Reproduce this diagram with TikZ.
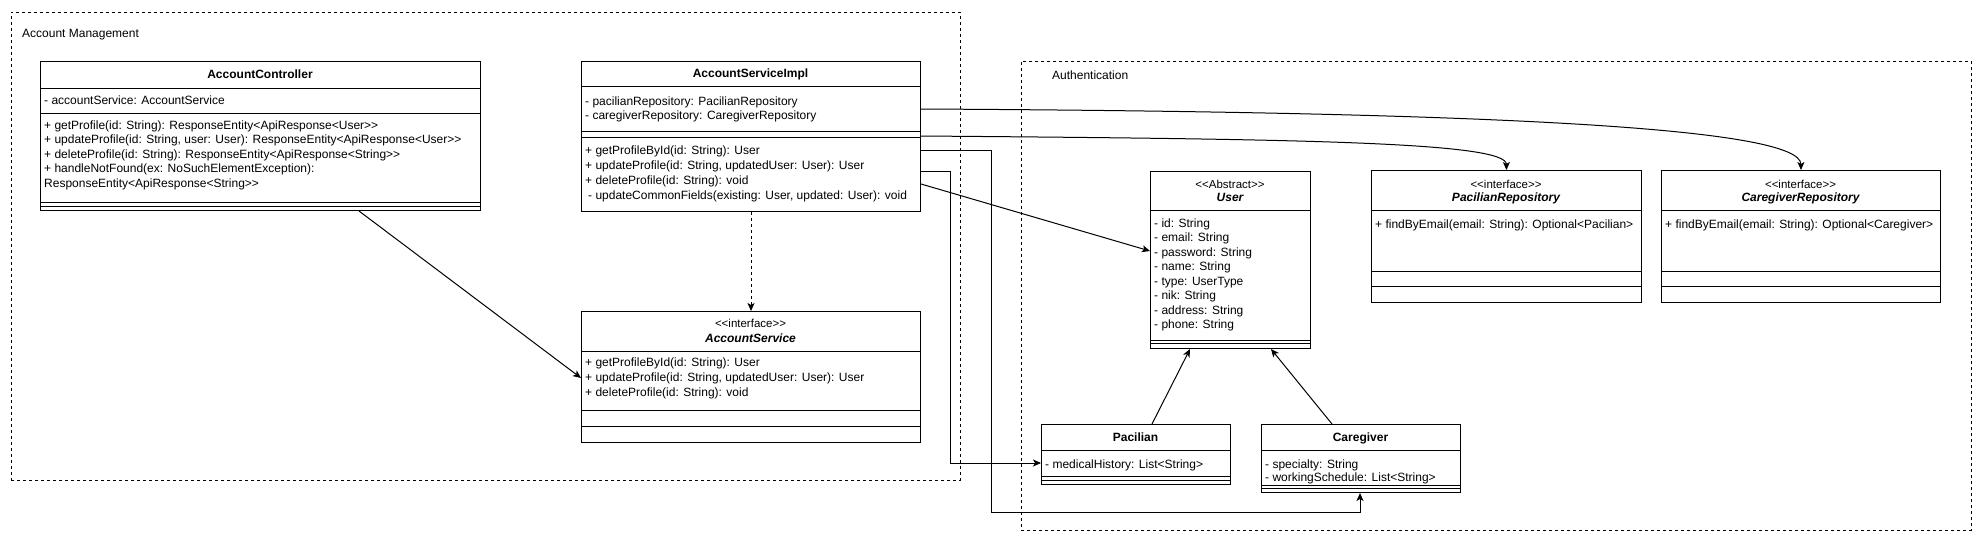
\documentclass[tikz,border=0pt]{standalone}
\usepackage{fontspec}
\setmainfont{Liberation Sans}
\usetikzlibrary{arrows.meta,calc}
\newcommand\dlt{<\kern0pt<}
\newcommand\dgt{>\kern0pt>}
\begin{document}
\begin{tikzpicture}[x=1pt,y=-1pt,
  frame/.style={draw, line width=0.9pt, dash pattern=on 3pt off 3pt, anchor=north west, inner sep=0pt},
  cls/.style={draw, line width=1pt, fill=white, anchor=north west, inner sep=0pt},
  sep/.style={line width=1pt},
  txt/.style={anchor=base west, inner sep=0pt, font=\fontsize{12}{14.4}\selectfont},
  hd/.style={anchor=base, inner sep=0pt, font=\fontsize{12}{14.4}\selectfont\bfseries},
  hdi/.style={anchor=base, inner sep=0pt, font=\fontsize{12}{14.4}\selectfont\bfseries\itshape},
  st/.style={anchor=base, inner sep=0pt, font=\fontsize{11.5}{13}\selectfont},
  conn/.style={line width=1pt, -{Stealth[length=8pt,width=7pt,inset=2pt]}},
]
\useasboundingbox (0,0) rectangle (1981,541);
\fill[white] (0,0) rectangle (1981,541);

% frames
\node[frame, minimum width=949pt, minimum height=468pt] (am) at (11,12) {};
\node[frame, minimum width=950pt, minimum height=469pt] (au) at (1021,61) {};
\node[txt] (amlbl) at (22,37) {Account Management};
\node[txt] (aulbl) at (1052,79) {Authentication};

% AccountController
\node[cls, minimum width=440pt, minimum height=149pt] (ac) at (40,61) {};
\foreach \yy in {88,113,202,206.5} \draw[sep] (ac.west |- 0,\yy) -- (ac.east |- 0,\yy);
\node[hd] (ach) at (260,78.5) {AccountController};
\node[txt] (aca1) at (44,104) {- accountService: AccountService};
\node[txt] (acm1) at (44,129) {+ getProfile(id: String): ResponseEntity<ApiResponse<User\dgt};
\node[txt] (acm2) at (44,143.5) {+ updateProfile(id: String, user: User): ResponseEntity<ApiResponse<User\dgt};
\node[txt] (acm3) at (44,158) {+ deleteProfile(id: String): ResponseEntity<ApiResponse<String\dgt};
\node[txt] (acm4) at (44,172.5) {+ handleNotFound(ex: NoSuchElementException):};
\node[txt] (acm5) at (44,187) {ResponseEntity<ApiResponse<String\dgt};

% AccountServiceImpl
\node[cls, minimum width=339pt, minimum height=150pt] (asi) at (581,61) {};
\foreach \yy in {86,131,137} \draw[sep] (asi.west |- 0,\yy) -- (asi.east |- 0,\yy);
\node[hd] (asih) at (750.5,77.5) {AccountServiceImpl};
\node[txt] (asia1) at (585,105) {- pacilianRepository: PacilianRepository};
\node[txt] (asia2) at (585,119) {- caregiverRepository: CaregiverRepository};
\node[txt] (asim1) at (585,154) {+ getProfileById(id: String): User};
\node[txt] (asim2) at (585,169.5) {+ updateProfile(id: String, updatedUser: User): User};
\node[txt] (asim3) at (585,184.5) {+ deleteProfile(id: String): void};
\node[txt] (asim4) at (588,199) {- updateCommonFields(existing: User, updated: User): void};

% AccountService
\node[cls, minimum width=339pt, minimum height=131pt] (as) at (581,311) {};
\foreach \yy in {351,410,426} \draw[sep] (as.west |- 0,\yy) -- (as.east |- 0,\yy);
\node[st] (ass) at (750.5,327) {\dlt interface\dgt};
\node[hdi] (ash) at (750.5,342) {AccountService};
\node[txt] (asm1) at (585,366.7) {+ getProfileById(id: String): User};
\node[txt] (asm2) at (585,381.7) {+ updateProfile(id: String, updatedUser: User): User};
\node[txt] (asm3) at (585,396.3) {+ deleteProfile(id: String): void};

% User
\node[cls, minimum width=160pt, minimum height=177.5pt] (user) at (1150,170.5) {};
\foreach \yy in {210,340,343.5} \draw[sep] (user.west |- 0,\yy) -- (user.east |- 0,\yy);
\node[st] (users) at (1230,188.3) {\dlt Abstract\dgt};
\node[hdi] (userh) at (1230,201.7) {User};
\node[txt] (ua1) at (1154,227.3) {- id: String};
\node[txt] (ua2) at (1154,241.8) {- email: String};
\node[txt] (ua3) at (1154,256.3) {- password: String};
\node[txt] (ua4) at (1154,270.8) {- name: String};
\node[txt] (ua5) at (1154,285.3) {- type: UserType};
\node[txt] (ua6) at (1154,299.8) {- nik: String};
\node[txt] (ua7) at (1154,314.3) {- address: String};
\node[txt] (ua8) at (1154,328.8) {- phone: String};

% PacilianRepository
\node[cls, minimum width=270pt, minimum height=132pt] (pr) at (1371,170) {};
\foreach \yy in {210,271,286.5} \draw[sep] (pr.west |- 0,\yy) -- (pr.east |- 0,\yy);
\node[st] (prs) at (1506,188) {\dlt interface\dgt};
\node[hdi] (prh) at (1506,201.7) {PacilianRepository};
\node[txt] (prm1) at (1375,228) {+ findByEmail(email: String): Optional<Pacilian>};

% CaregiverRepository
\node[cls, minimum width=279pt, minimum height=132pt] (cr) at (1661,170) {};
\foreach \yy in {210,271,286.5} \draw[sep] (cr.west |- 0,\yy) -- (cr.east |- 0,\yy);
\node[st] (crs) at (1800.5,188) {\dlt interface\dgt};
\node[hdi] (crh) at (1800.5,201.7) {CaregiverRepository};
\node[txt] (crm1) at (1665,228) {+ findByEmail(email: String): Optional<Caregiver>};

% Pacilian
\node[cls, minimum width=189pt, minimum height=60pt] (pac) at (1041,424) {};
\foreach \yy in {450.7,476.7,480.7} \draw[sep] (pac.west |- 0,\yy) -- (pac.east |- 0,\yy);
\node[hd] (pach) at (1135.5,441.7) {Pacilian};
\node[txt] (paca1) at (1045,468) {- medicalHistory: List<String>};

% Caregiver
\node[cls, minimum width=199pt, minimum height=68pt] (cg) at (1261,424) {};
\foreach \yy in {450.7,485,488.7} \draw[sep] (cg.west |- 0,\yy) -- (cg.east |- 0,\yy);
\node[hd] (cgh) at (1360.5,441.7) {Caregiver};
\node[txt] (cga1) at (1265,468) {- specialty: String};
\node[txt] (cga2) at (1265,481.3) {- workingSchedule: List<String>};

% connectors
\draw[conn] (ac.south -| 359,0) -- (as.west |- 0,378);
\draw[conn, dash pattern=on 3pt off 3pt] (asi.south) -- (as.north);
\draw[conn] (asi.east |- 0,184) -- (user.west |- 0,251);
\draw[conn] (asi.east |- 0,150) -- (991,150) -- (991,512) -| (cg.south -| 1360,0);
\draw[conn] (asi.east |- 0,171) -- (950,171) |- (pac.west |- 0,463);
\draw[conn] (asi.east |- 0,136) .. controls (1300,139) and (1506,142) .. (pr.north);
\draw[conn] (asi.east |- 0,109) .. controls (1500,112) and (1800.5,128) .. (cr.north);
\draw[conn] (pac.north -| 1152,0) -- (user.south -| 1190,0);
\draw[conn] (cg.north -| 1332,0) -- (user.south -| 1271,0);
\end{tikzpicture}
\end{document}
